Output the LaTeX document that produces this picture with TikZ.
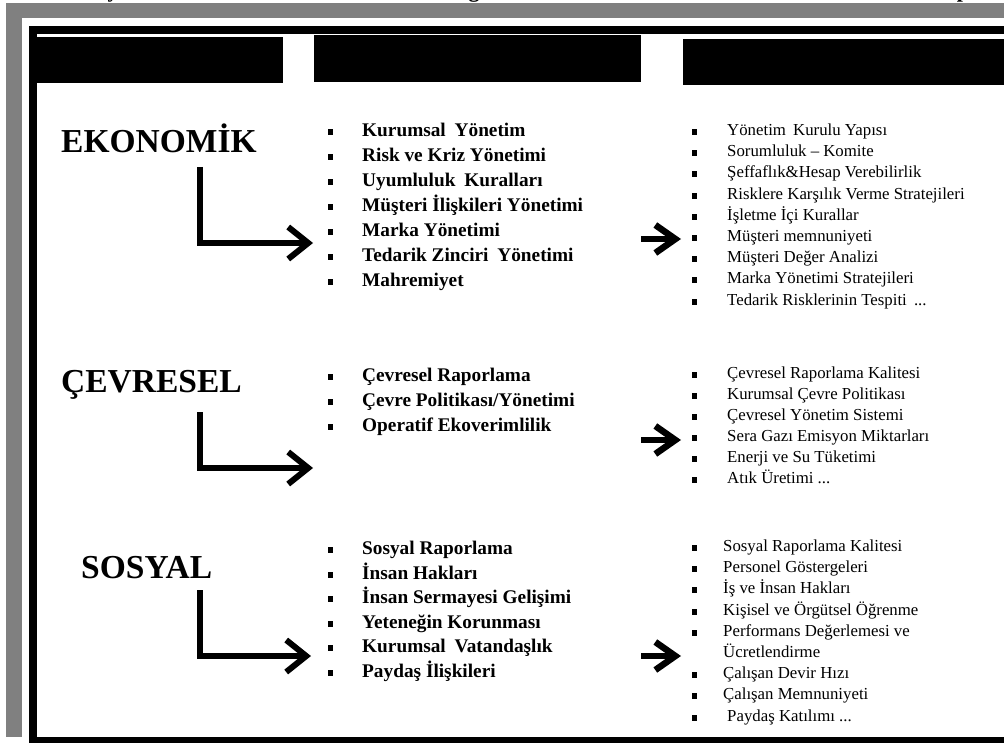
\documentclass[tikz,border=0pt]{standalone}
\usepackage{fontspec}
\setmainfont{Liberation Serif}
\usetikzlibrary{arrows.meta}
\definecolor{framegray}{RGB}{128,128,128}
\newcommand\mytdots{...}
\tikzset{
  head/.style={font=\bfseries\fontsize{33.5}{36}\selectfont, anchor=base west, inner sep=0pt},
  mid/.style={font=\bfseries\fontsize{19.3}{22}\selectfont, anchor=west, inner sep=0pt, text height=13pt, text depth=4pt},
  rgt/.style={font=\fontsize{16.8}{20}\selectfont, anchor=west, inner sep=0pt, text height=11pt, text depth=4pt},
  bul/.style={fill=black, minimum width=5pt, minimum height=6pt, inner sep=0pt},
  larrow/.style={line width=6pt, -{Straight Barb[length=20pt,width=32pt]}},
  bigarrow/.style={line width=6.5pt, -{Straight Barb[length=20pt,width=28pt]}},
  topglyph/.style={font=\bfseries\fontsize{22}{22}\selectfont, anchor=base, inner sep=0pt},
}
\begin{document}
\begin{tikzpicture}[x=1pt,y=-1pt]
\useasboundingbox (0,0) rectangle (1004,743);
% partial title line cut at the top edge
\begin{scope}
\clip (0,0) rectangle (1004,743);
\node[topglyph] (t1) at (113,-2) {y};
\node[topglyph] (t2) at (474,-2) {g};
\node[topglyph] (t3) at (963,-2) {p};
\end{scope}
% grey page border
\fill[framegray] (6,3) rectangle (1004,18);
\fill[framegray] (6,3) rectangle (22,737);
% black frame
\fill[black] (29,26) rectangle (1004,34);
\fill[black] (29,26) rectangle (37,743);
\fill[black] (29,737) rectangle (1004,743);
% header bars
\fill[black] (37,37) rectangle (283,83);
\fill[black] (314,35) rectangle (641,82);
\fill[black] (683,39) rectangle (1004,85);

% ---------- EKONOMIK ----------
\node[head] (eko) at (61,153) {EKONOMİK};
\foreach \t [count=\i] in {Kurumsal\hspace{4pt} Yönetim, Risk ve Kriz Yönetimi, Uyumluluk\hspace{4pt} Kuralları, Müşteri İlişkileri Yönetimi, Marka Yönetimi, Tedarik Zinciri\hspace{4pt} Yönetimi, Mahremiyet}{
  \node[bul] (ekmb\i) at (330,{132+25*(\i-1)}) {};
  \node[mid] (ekm\i) at (362,{132+25*(\i-1)}) {\t};
}
\foreach \t [count=\i] in {Yönetim\hspace{3pt} Kurulu Yapısı, Sorumluluk -- Komite, Şeffaflık\&Hesap Verebilirlik, Risklere Karşılık Verme Stratejileri, İşletme İçi Kurallar, Müşteri memnuniyeti, Müşteri Değer Analizi, Marka Yönetimi Stratejileri, Tedarik Risklerinin Tespiti\hspace{3pt} \mytdots}{
  \node[bul] (ekrb\i) at (694,{132+21.2*(\i-1)}) {};
  \node[rgt] (ekr\i) at (727,{132+21.2*(\i-1)}) {\t};
}
\coordinate (ekA) at (200,167);
\coordinate (ekB) at (313,243);
\draw[larrow] (ekA) |- (ekB);
\coordinate (ekC) at (641,239);
\coordinate (ekD) at (681,239);
\draw[bigarrow] (ekC) -- (ekD);

% ---------- CEVRESEL ----------
\node[head] (cev) at (61,392) {ÇEVRESEL};
\foreach \t [count=\i] in {Çevresel Raporlama, Çevre Politikası/Yönetimi, Operatif Ekoverimlilik}{
  \node[bul] (cvmb\i) at (330,{377+25*(\i-1)}) {};
  \node[mid] (cvm\i) at (362,{377+25*(\i-1)}) {\t};
}
\foreach \t [count=\i] in {Çevresel Raporlama Kalitesi, Kurumsal Çevre Politikası, Çevresel Yönetim Sistemi, Sera Gazı Emisyon Miktarları, Enerji ve Su Tüketimi, Atık Üretimi \mytdots}{
  \node[bul] (cvrb\i) at (694,{375+21*(\i-1)}) {};
  \node[rgt] (cvr\i) at (727,{375+21*(\i-1)}) {\t};
}
\coordinate (cvA) at (200,412);
\coordinate (cvB) at (313,468);
\draw[larrow] (cvA) |- (cvB);
\coordinate (cvC) at (641,440);
\coordinate (cvD) at (681,440);
\draw[bigarrow] (cvC) -- (cvD);

% ---------- SOSYAL ----------
\node[head] (sos) at (81,578) {SOSYAL};
\foreach \t [count=\i] in {Sosyal Raporlama, İnsan Hakları, İnsan Sermayesi Gelişimi, Yeteneğin Korunması, Kurumsal\hspace{4pt} Vatandaşlık, Paydaş İlişkileri}{
  \node[bul] (somb\i) at (330,{550+24.5*(\i-1)}) {};
  \node[mid] (som\i) at (362,{550+24.5*(\i-1)}) {\t};
}
\foreach \t/\r [count=\i] in {Sosyal Raporlama Kalitesi/0, Personel Göstergeleri/1, İş ve İnsan Hakları/2, Kişisel ve Örgütsel Öğrenme/3, Performans Değerlemesi ve/4, Çalışan Devir Hızı/6, Çalışan Memnuniyeti/7, \hspace{4pt}Paydaş Katılımı \mytdots/8}{
  \node[bul] (sorb\i) at (694,{548+21.2*\r}) {};
  \node[rgt] (sor\i) at (723,{548+21.2*\r}) {\t};
}
\node[rgt] (sorx) at (723,{548+21.2*5}) {Ücretlendirme};
\coordinate (soA) at (200,590);
\coordinate (soB) at (311,656);
\draw[larrow] (soA) |- (soB);
\coordinate (soC) at (641,656);
\coordinate (soD) at (681,656);
\draw[bigarrow] (soC) -- (soD);
\end{tikzpicture}
\end{document}
